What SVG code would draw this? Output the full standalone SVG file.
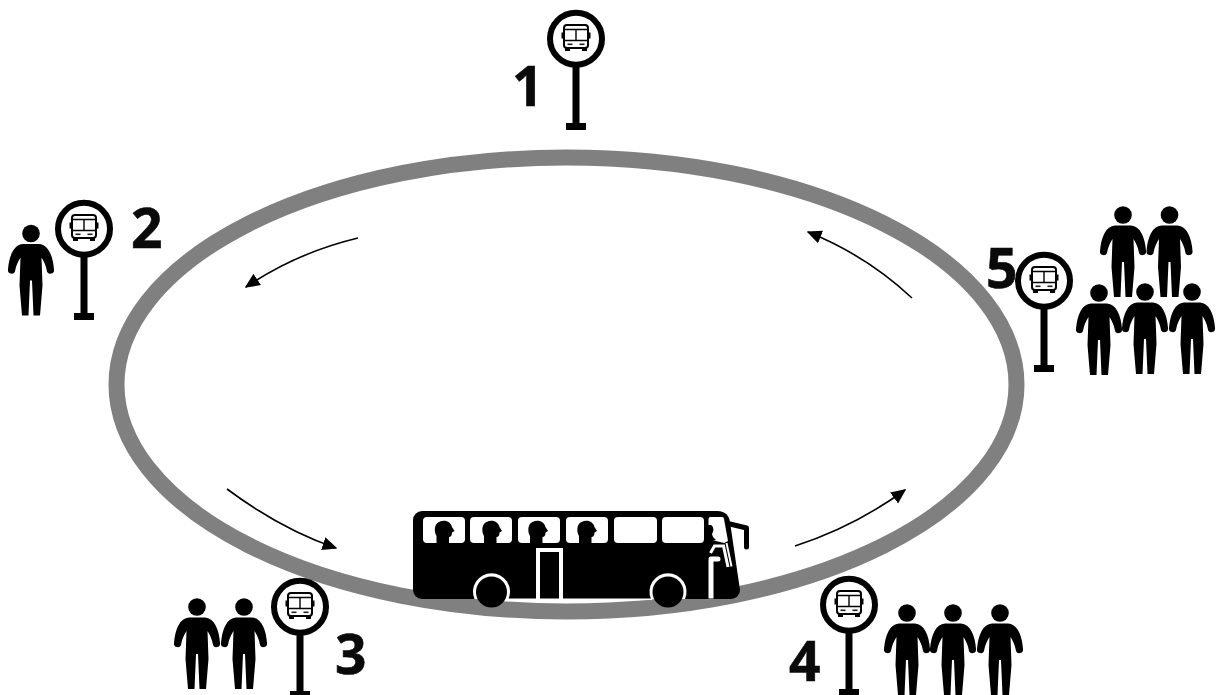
<svg xmlns="http://www.w3.org/2000/svg" width="1224" height="695" viewBox="0 0 1224 695">
<style>
.n{font-family:"Open Sans","Liberation Sans",sans-serif;font-weight:700;font-size:55px;fill:#0a0a0a;stroke:#0a0a0a;stroke-width:0.6}
.c{fill:none;stroke:#000;stroke-width:1.6}
.w{fill:#fff}
</style>
<defs>
<marker id="ah" viewBox="0 0 10 10" refX="9" refY="5" markerWidth="15" markerHeight="15" markerUnits="userSpaceOnUse" orient="auto"><path d="M0,0.500L10,5L0,9.500Z" fill="#000"/></marker>
<g id="stop">
<circle cy="0.700" r="26" fill="#fff" stroke="#000" stroke-width="6"/>
<rect x="-3.500" y="28" width="7" height="60" fill="#000"/>
<rect x="-10" y="85" width="20" height="7" fill="#000"/>
<rect x="-12" y="-13" width="24" height="23" rx="3" fill="#fff" stroke="#000" stroke-width="2"/>
<path d="M-12,-8.500H12M0,-8.500V2.500M-12,2.500H12" fill="none" stroke="#000" stroke-width="1.400"/>
<rect x="-14.500" y="-5.500" width="2.500" height="6" fill="#000"/><rect x="12" y="-5.500" width="2.500" height="6" fill="#000"/>
<rect x="-8.500" y="5.500" width="5" height="1.600" fill="#222"/><rect x="3.500" y="5.500" width="5" height="1.600" fill="#222"/>
<rect x="-11" y="9.500" width="5" height="3.500" fill="#000"/><rect x="6" y="9.500" width="5" height="3.500" fill="#000"/>
</g>
<g id="person">
<circle r="8.800" fill="#000"/>
<path fill="#000" d="M-8,10.500H8C17,11 22,22 23,36a3.600,3.600 0 0 1-7.200,1C15,32 13,28 10.500,24L11.500,52L9,82H2.500L1,47H-1L-2.500,82H-9L-11.500,52L-10.500,24C-13,28-15,32-15.800,37a3.600,3.600 0 0 1-7.200,-1C-22,22-17,11-8,10.500Z"/>
</g>
<g id="head"><path fill="#000" d="M-7.500,14V7C-10,3-10,-5-5,-7C1,-10 7,-7 8,-2L10.500,2L8,3.500C8,7 6.500,8 5,8V14Z"/></g>
</defs>
<rect width="1224" height="695" fill="#fff"/>
<g id="connectors">
<ellipse id="route" cx="566.500" cy="384.500" rx="450" ry="227" fill="none" stroke="#808080" stroke-width="16"/>
<path class="c" marker-end="url(#ah)" d="M358,238C316,248 280,264 246,287"/>
<path class="c" marker-end="url(#ah)" d="M227,489C262,515 298,535 336,548"/>
<path class="c" marker-end="url(#ah)" d="M795,546C835,533 872,514 905,490"/>
<path class="c" marker-end="url(#ah)" d="M912,298C882,270 848,248 808,232"/>
</g>
<g id="bus">
<path fill="#000" d="M413,520a9,9 0 0 1 9,-9H717C726,511 729,516 730,522L740,590a9,9 0 0 1-9,9H422a9,9 0 0 1-9,-9Z"/>
<path fill="none" stroke="#000" stroke-width="5" stroke-linecap="round" stroke-linejoin="round" d="M730,524L746.500,528V547"/>
<g class="w">
<rect x="423" y="517" width="42" height="26" rx="4"/><rect x="470" y="517" width="42" height="26" rx="4"/>
<rect x="518" y="517" width="42" height="26" rx="4"/><rect x="566" y="517" width="42" height="26" rx="4"/>
<rect x="614" y="517" width="43" height="26" rx="4"/><rect x="662" y="517" width="42" height="26" rx="4"/>
</g>
<use href="#head" x="444" y="529"/><use href="#head" x="491.500" y="529"/><use href="#head" x="537.500" y="529"/><use href="#head" x="586.500" y="529"/>
<path class="w" d="M708.500,519a2,2 0 0 1 2,-2H722a2,2 0 0 1 2,2L728,541L724,543L718,541.500L712,540L710,533L708.500,527Z"/>
<path fill="#000" d="M708,525H711C714,527 714,531 712,534L713,537L716,540L711,541L708,536Z"/>
<path fill="none" stroke="#fff" stroke-width="3" d="M710.500,553L714.500,546H723.500L728,567"/>
<path fill="none" stroke="#fff" stroke-width="2" d="M726.500,543L731.500,566.500"/>
<rect class="w" x="708.500" y="556.500" width="12" height="5" rx="2.500"/>
<rect class="w" x="708.500" y="560" width="5" height="38.500"/>
<path fill="none" stroke="#fff" stroke-width="4" d="M538,599V550H561V599"/>
<path class="w" d="M505,598.500L652,598.500L652,600L578,601.500L505,600.500Z"/>
<path class="w" d="M474.500,599A18.500,18.500 0 1 1 508.500,599Z"/><circle cx="491.500" cy="592" r="15.500" fill="#000"/>
<path class="w" d="M651,599A18.500,18.500 0 1 1 685,599Z"/><circle cx="668" cy="592" r="15.500" fill="#000"/>
</g>
<g id="stop1"><use href="#stop" x="576" y="38"/><text class="n" x="512" y="106">1</text></g>
<g id="stop2"><use href="#stop" x="84" y="228"/><text class="n" x="131" y="248">2</text><use href="#person" x="31" y="233.500"/></g>
<g id="stop3"><use href="#stop" x="300" y="606"/><text class="n" x="335" y="674">3</text><use href="#person" x="197" y="607"/><use href="#person" x="244" y="607"/></g>
<g id="stop4"><use href="#stop" x="849" y="604"/><text class="n" x="789" y="681">4</text><use href="#person" x="907" y="613"/><use href="#person" x="953" y="613"/><use href="#person" x="1000" y="613"/></g>
<g id="stop5"><text class="n" x="986" y="288">5</text><use href="#stop" x="1044" y="280"/><use href="#person" x="1123" y="215"/><use href="#person" x="1169.500" y="215"/><use href="#person" x="1099" y="293"/><use href="#person" x="1145" y="292"/><use href="#person" x="1192" y="292"/></g>
</svg>
